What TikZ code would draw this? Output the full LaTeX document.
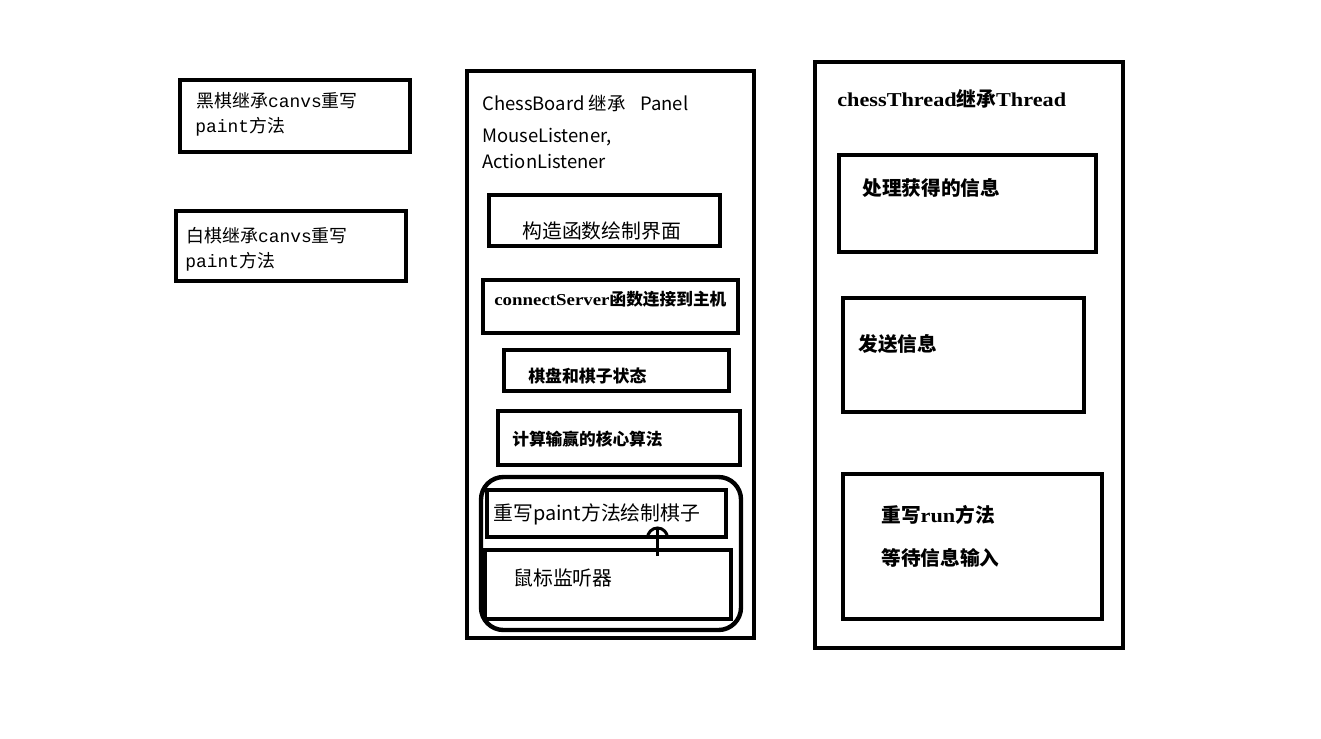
\documentclass[tikz,border=0pt]{standalone}
\usepackage{fontspec}
\usetikzlibrary{fit}
\newfontfamily\cjk{Noto Sans CJK SC}
\newfontfamily\monofam{Liberation Mono}
\newfontfamily\seriffam[FakeStretch=1.13]{Liberation Serif}
\newcommand{\fsz}[1]{\fontsize{#1}{#1}\selectfont}
\begin{document}
\begin{tikzpicture}[x=0.02cm,y=-0.02cm,
  box/.style={draw=black,line width=2.3pt,inner sep=0pt},
  thickbox/.style={draw=black,line width=2.8pt,inner sep=0pt},
  txt/.style={inner sep=0pt,anchor=base west},
  conn/.style={draw=black,line width=1.7pt}]
\useasboundingbox (0,0) rectangle (1321,738);
\fill[white] (0,0) rectangle (1321,738);
% left boxes
\node[box,fit={(180,80) (410,152)}] (black) {};
\node[txt,font=\fsz{10.2pt}] (b1) at (196,107) {\cjk 黑棋继承\monofam canvs\cjk 重写};
\node[txt,font=\fsz{10.2pt}] (b2) at (195,132) {\monofam paint\cjk 方法};
\node[box,fit={(176,211) (406,281)}] (white) {};
\node[txt,font=\fsz{10.2pt}] (w1) at (186,242) {\cjk 白棋继承\monofam canvs\cjk 重写};
\node[txt,font=\fsz{10.2pt}] (w2) at (185,267) {\monofam paint\cjk 方法};
% ChessBoard
\node[box,fit={(467,71) (754,638)}] (board) {};
\node[txt,font=\fsz{10.5pt}] (cb1) at (482,110) {\cjk ChessBoard 继承\hspace{0.8em}Panel};
\node[txt,font=\fsz{10.5pt}] (cb2) at (482,142) {\cjk MouseListener,};
\node[txt,font=\fsz{10.5pt}] (cb3) at (482,168) {\cjk ActionListener};
\node[box,fit={(489,195) (720,246)}] (ctor) {};
\node[txt,font=\fsz{11.3pt}] (ctort) at (522,238) {\cjk 构造函数绘制界面};
\node[box,fit={(483,280) (738,333)}] (conn) {};
\node[txt,font=\fsz{9.5pt}] (connt) at (494,305) {\seriffam\bfseries connectServer\cjk\bfseries 函数连接到主机};
\node[box,fit={(504,350) (729,391)}] (state) {};
\node[txt,font=\fsz{9.6pt}] (statet) at (528,382.5) {\cjk\bfseries 棋盘和棋子状态};
\node[box,fit={(498,411) (740,465)}] (algo) {};
\node[txt,font=\fsz{9.5pt}] (algot) at (512,445) {\cjk\bfseries 计算输赢的核心算法};
\node[draw=black,line width=2.5pt,rounded corners=0.45cm,inner sep=0pt,fit={(481,477) (741,630)}] (grp) {};
\node[thickbox,fit={(487,490) (726,537)}] (paint) {};
\node[txt,font=\fsz{11.3pt}] (paintt) at (493,520.6) {\cjk 重写paint方法绘制棋子};
\node[thickbox,fit={(485,550) (731,619)}] (mouse) {};
\node[txt,font=\fsz{11.3pt}] (mouset) at (513,585.6) {\cjk 鼠标监听器};
\coordinate (hopA) at (657,527);
\coordinate (hopB) at (657,556);
\draw[conn] (hopB) -- (hopA);
\draw[conn] (647.5,538) arc (180:360:10);
% chessThread
\node[box,fit={(815,62) (1123,648)}] (thread) {};
\node[txt,font=\fsz{11.2pt}] (threadt) at (837,106.6) {\seriffam\bfseries chessThread\cjk\bfseries 继承\seriffam\bfseries Thread};
\node[box,fit={(839,155) (1096,252)}] (proc) {};
\node[txt,font=\fsz{11.2pt}] (proct) at (862,195.5) {\cjk\bfseries 处理获得的信息};
\node[box,fit={(843,298) (1084,412)}] (send) {};
\node[txt,font=\fsz{11.2pt}] (sendt) at (858,351.5) {\cjk\bfseries 发送信息};
\node[box,fit={(843,474) (1102,619)}] (run) {};
\node[txt,font=\fsz{11.2pt}] (run1) at (881,522.6) {\cjk\bfseries 重写\seriffam\bfseries run\cjk\bfseries 方法};
\node[txt,font=\fsz{11.2pt}] (run2) at (881,565.6) {\cjk\bfseries 等待信息输入};
\end{tikzpicture}
\end{document}
